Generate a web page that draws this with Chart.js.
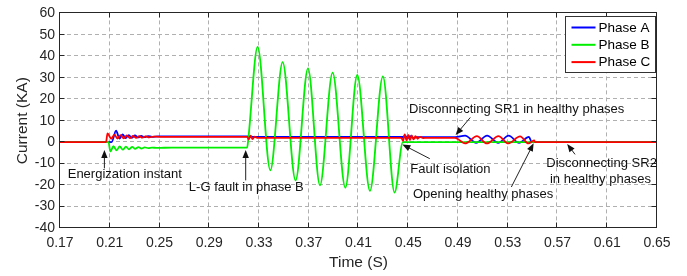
<!DOCTYPE html>
<html>
<head>
<meta charset="utf-8">
<script src="https://cdn.jsdelivr.net/npm/chart.js@4.4.1/dist/chart.umd.min.js"></script>
<style>
  html, body { margin: 0; padding: 0; background: #ffffff; }
  #wrap { width: 687px; height: 276px; position: relative; }
</style>
</head>
<body>
<div id="wrap"><canvas id="chart" width="687" height="276"></canvas></div>
<script>
// --- dados (tempo em s, corrente em kA) ---
const xTicks = [0.17, 0.21, 0.25, 0.29, 0.33, 0.37, 0.41, 0.45, 0.49, 0.53, 0.57, 0.61, 0.65];
const yTicks = [-40, -30, -20, -10, 0, 10, 20, 30, 40, 50, 60];

const seriesNames = ['Phase A', 'Phase B', 'Phase C'];
const seriesColors = ['#0000ff', '#00ee00', '#ff0000'];

// Phase A (azul)
const timeA = [0.17, 0.2115, 0.2151, 0.2178, 0.2203, 0.2228, 0.2253, 0.2278, 0.2303, 0.2328, 0.2353, 0.2378,
  0.2408, 0.2440, 0.2490, 0.3212, 0.3230, 0.3260, 0.4455, 0.4475, 0.4495, 0.4515, 0.4540, 0.4570,
  0.4877, 0.4957, 0.5046, 0.5134, 0.5223, 0.5307, 0.5391, 0.5470, 0.5493, 0.65];
const currentA = [0, 0, 5.4, 1.7, 3.6, 1.9, 3.3, 2.0, 3.1, 2.2, 2.9, 2.3,
  2.8, 2.5, 2.7, 2.7, 2.4, 2.5, 2.4, 3.0, 1.8, 2.8, 2.0, 2.3,
  2.3, 3.0, -0.3, 3.0, -0.3, 3.0, -0.3, 2.5, 0, 0];

// Phase B (verde)
const timeB = [0.17, 0.2090, 0.2105, 0.2130, 0.2155, 0.2180, 0.2205, 0.2230, 0.2255, 0.2280, 0.2305, 0.2330,
  0.2355, 0.2380, 0.2410, 0.2440, 0.2480, 0.2600, 0.3205, 0.3214, 0.3289, 0.3391, 0.3490, 0.3594,
  0.3694, 0.3790, 0.3892, 0.3994, 0.4090, 0.4192, 0.4296, 0.4390, 0.4457, 0.65];
const currentB = [0, 0, -4.3, -1.9, -3.8, -2.0, -3.5, -2.1, -3.3, -2.2, -3.1, -2.3,
  -3.0, -2.4, -2.8, -2.5, -2.7, -2.5, -2.5, 1.5, 44.4, -13.1, 37.3, -17.8,
  34.4, -20.1, 32.4, -21.2, 31.3, -22.7, 30.7, -23.5, 0, 0];

// Phase C (vermelho)
const timeC = [0.17, 0.2070, 0.2082, 0.2112, 0.2137, 0.2162, 0.2187, 0.2212, 0.2237, 0.2262, 0.2287, 0.2312,
  0.2337, 0.2362, 0.2387, 0.2417, 0.2450, 0.2500, 0.3205, 0.3218, 0.3233, 0.3248, 0.3265, 0.3285,
  0.4445, 0.4458, 0.4472, 0.4486, 0.4500, 0.4514, 0.4528, 0.4543, 0.4558, 0.4575, 0.4595, 0.4620,
  0.4650, 0.4877, 0.4957, 0.5052, 0.5132, 0.5225, 0.5305, 0.5399, 0.5466, 0.5512, 0.5520, 0.65];
const currentC = [0, 0, 4.1, 1.6, 3.5, 1.7, 3.3, 1.8, 3.1, 1.9, 2.9, 2.0,
  2.8, 2.1, 2.7, 2.2, 2.6, 2.5, 2.5, 1.3, 3.0, 1.4, 2.6, 2.0,
  2.0, 0.6, 3.6, 0.8, 3.4, 1.0, 3.1, 1.3, 2.8, 1.6, 2.5, 1.9,
  2.0, 2.0, -0.6, 2.8, -0.6, 2.8, -0.6, 2.7, -0.6, 0.8, 0, 0];

// Anotações: texto em (t, i) e seta da cauda até a ponta
const notes = [
  { text: ['Energization instant'], at: [0.1762, -15], tail: [0.2057, -12.2], tip: [0.2057, -3.6] },
  { text: ['L-G fault in phase B'], at: [0.2736, -21.2], tail: [0.3193, -17.8], tip: [0.3193, -3.6] },
  { text: ['Disconnecting SR1 in healthy phases'], at: [0.4506, 15.1], tail: [0.4999, 11.5], tip: [0.4881, 3.3] },
  { text: ['Fault isolation'], at: [0.4517, -12.8], tail: [0.4673, -7.7], tip: [0.4453, -1.1] },
  { text: ['Opening healthy phases'], at: [0.4538, -24.3], tail: [0.5329, -20.9], tip: [0.5508, -0.5] },
  { text: ['Disconnecting SR2', ' in healthy phases'], at: [0.5610, -9.8], tail: [0.5841, -5.7], tip: [0.5778, -0.8] }
];

const FONT = '"Liberation Sans", Arial, Helvetica, sans-serif';
const AXIS_COLOR = '#262626';

function toPoints(t, v) {
    return t.map((tt, i) => ({ x: tt, y: v[i] }));
}

function drawArrow(ctx, x1, y1, x2, y2) {
    const ang = Math.atan2(y2 - y1, x2 - x1);
    const head = 8, half = 3.2;
    ctx.beginPath();
    ctx.moveTo(x1, y1);
    ctx.lineTo(x2 - Math.cos(ang) * head * 0.8, y2 - Math.sin(ang) * head * 0.8);
    ctx.stroke();
    ctx.beginPath();
    ctx.moveTo(x2, y2);
    ctx.lineTo(x2 - Math.cos(ang) * head - Math.sin(ang) * half, y2 - Math.sin(ang) * head + Math.cos(ang) * half);
    ctx.lineTo(x2 - Math.cos(ang) * head + Math.sin(ang) * half, y2 - Math.sin(ang) * head - Math.cos(ang) * half);
    ctx.closePath();
    ctx.fill();
}

// Grade tracejada, moldura, marcas internas, anotações e legenda
const framePlugin = {
    id: 'frame',
    beforeDatasetsDraw(chart) {
        const { ctx, chartArea: a, scales: { x, y } } = chart;
        ctx.save();
        ctx.strokeStyle = '#b0b0b0';
        ctx.lineWidth = 1;
        ctx.setLineDash([4, 3]);
        xTicks.forEach(v => {
            const px = Math.round(x.getPixelForValue(v)) - 0.5;
            ctx.beginPath(); ctx.moveTo(px, a.top); ctx.lineTo(px, a.bottom); ctx.stroke();
        });
        yTicks.forEach(v => {
            const py = Math.round(y.getPixelForValue(v)) - 0.5;
            ctx.beginPath(); ctx.moveTo(a.left, py); ctx.lineTo(a.right, py); ctx.stroke();
        });
        ctx.restore();
    },
    afterDatasetsDraw(chart) {
        const { ctx, chartArea: a, scales: { x, y } } = chart;
        const L = Math.round(a.left) - 0.5, R = Math.round(a.right) - 0.5;
        const T = Math.round(a.top) - 0.5, B = Math.round(a.bottom) - 0.5;
        ctx.save();
        // moldura
        ctx.strokeStyle = AXIS_COLOR;
        ctx.lineWidth = 1;
        ctx.strokeRect(L, T, R - L, B - T);
        // marcas internas
        ctx.beginPath();
        xTicks.forEach(v => {
            const px = Math.round(x.getPixelForValue(v)) - 0.5;
            ctx.moveTo(px, B); ctx.lineTo(px, B - 5);
            ctx.moveTo(px, T); ctx.lineTo(px, T + 5);
        });
        yTicks.forEach(v => {
            const py = Math.round(y.getPixelForValue(v)) - 0.5;
            ctx.moveTo(L, py); ctx.lineTo(L + 5, py);
            ctx.moveTo(R, py); ctx.lineTo(R - 5, py);
        });
        ctx.stroke();

        // anotações
        ctx.font = '13px ' + FONT;
        ctx.fillStyle = '#111111';
        ctx.strokeStyle = '#222222';
        ctx.textAlign = 'left';
        ctx.textBaseline = 'middle';
        notes.forEach(n => {
            const tx = x.getPixelForValue(n.at[0]);
            const ty = y.getPixelForValue(n.at[1]);
            n.text.forEach((line, k) => ctx.fillText(line, tx, ty + k * 16.6));
            drawArrow(ctx,
                x.getPixelForValue(n.tail[0]), y.getPixelForValue(n.tail[1]),
                x.getPixelForValue(n.tip[0]), y.getPixelForValue(n.tip[1]));
        });

        // legenda
        const bw = 90, bh = 56;
        const bx = R - 1 - bw, by = T + 4;
        ctx.fillStyle = '#ffffff';
        ctx.fillRect(bx, by, bw, bh);
        ctx.strokeStyle = '#333333';
        ctx.strokeRect(bx, by, bw, bh);
        ctx.font = '13.5px ' + FONT;
        chart.data.datasets.forEach((ds, i) => {
            const cy = by + 11 + i * 17.3;
            ctx.strokeStyle = ds.borderColor;
            ctx.lineWidth = 2;
            ctx.beginPath(); ctx.moveTo(bx + 6, cy); ctx.lineTo(bx + 30, cy); ctx.stroke();
            ctx.fillStyle = '#000000';
            ctx.fillText(ds.label, bx + 33, cy + 0.5);
        });
        ctx.restore();
    }
};

const datasets = [
    { label: seriesNames[0], data: toPoints(timeA, currentA), borderColor: seriesColors[0], order: 2 },
    { label: seriesNames[1], data: toPoints(timeB, currentB), borderColor: seriesColors[1], order: 1 },
    { label: seriesNames[2], data: toPoints(timeC, currentC), borderColor: seriesColors[2], order: 0 }
].map(ds => Object.assign(ds, {
    borderWidth: 1.8,
    pointRadius: 0,
    fill: false,
    cubicInterpolationMode: 'monotone'
}));

new Chart(document.getElementById('chart'), {
    type: 'line',
    data: { datasets: datasets },
    options: {
        responsive: false,
        animation: false,
        events: [],
        layout: { padding: { left: 0, right: 30, top: 12, bottom: 0 } },
        plugins: {
            legend: { display: false },
            tooltip: { enabled: false }
        },
        scales: {
            x: {
                type: 'linear',
                min: 0.17,
                max: 0.65,
                grid: { display: false, drawTicks: false },
                border: { display: false },
                afterBuildTicks: scale => { scale.ticks = xTicks.map(v => ({ value: v })); },
                afterFit: scale => { scale.height = 48; },
                ticks: {
                    color: AXIS_COLOR,
                    padding: 7,
                    maxRotation: 0,
                    autoSkip: false,
                    font: { family: FONT, size: 14 },
                    callback: v => v.toFixed(2)
                },
                title: {
                    display: true,
                    text: 'Time (S)',
                    color: AXIS_COLOR,
                    font: { family: FONT, size: 15.5 },
                    padding: { top: 0, bottom: 4 }
                }
            },
            y: {
                type: 'linear',
                min: -40,
                max: 60,
                grid: { display: false, drawTicks: false },
                border: { display: false },
                afterBuildTicks: scale => { scale.ticks = yTicks.map(v => ({ value: v })); },
                afterFit: scale => { scale.width = 60; },
                ticks: {
                    color: AXIS_COLOR,
                    padding: 5,
                    autoSkip: false,
                    font: { family: FONT, size: 14 },
                    callback: v => String(v)
                },
                title: {
                    display: true,
                    text: 'Current (KA)',
                    color: AXIS_COLOR,
                    font: { family: FONT, size: 15.5 },
                    padding: { top: 13, bottom: 0 }
                }
            }
        }
    },
    plugins: [framePlugin]
});
</script>
</body>
</html>
